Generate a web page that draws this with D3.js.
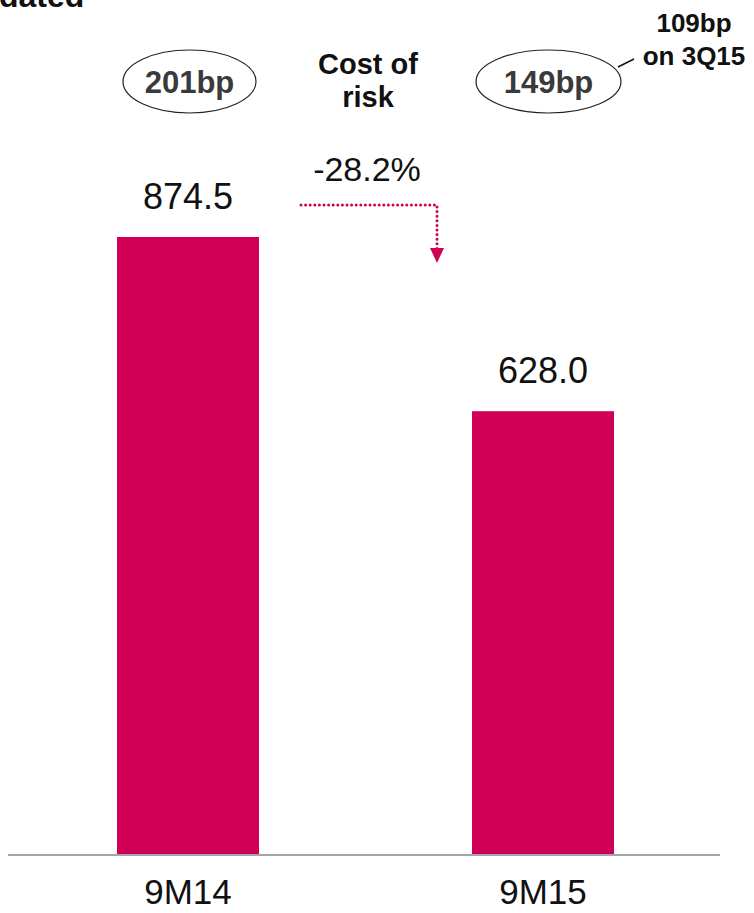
<!DOCTYPE html>
<html>
<head>
<meta charset="utf-8">
<script src="https://cdn.jsdelivr.net/npm/d3@7"></script>
<style>
  html, body { margin: 0; padding: 0; background: #fff; }
  svg { display: block; }
</style>
</head>
<body>
<svg id="chart" width="754" height="913"></svg>
<script>
// Cost of risk, 9M14 vs 9M15
const categories = ["9M14", "9M15"];
const values = [874.5, 628.0];
const valueLabels = ["874.5", "628.0"];
const costOfRisk = ["201bp", "149bp"];
const changeLabel = "-28.2%";
const quarterNote = ["109bp", "on 3Q15"];

const W = 754, H = 913;
const svg = d3.select("#chart");
const barColor = "#D10057";
const font = "'Liberation Sans', Arial, sans-serif";

const x = d3.scaleBand()
  .domain(categories)
  .range([10.5, 720.5])
  .paddingInner(0.6)
  .paddingOuter(0.3);

const y = d3.scaleLinear()
  .domain([0, 1000])
  .range([855, 148.3]);

// clipped heading remnant at top-left
svg.append("text")
  .attr("x", -1).attr("y", 7)
  .attr("font-family", font).attr("font-size", 32).attr("font-weight", "bold")
  .attr("fill", "#111")
  .text("dated");

// bars
svg.append("g").selectAll("rect")
  .data(values)
  .join("rect")
  .attr("x", (d, i) => x(categories[i]))
  .attr("y", d => y(d))
  .attr("width", x.bandwidth())
  .attr("height", d => y(0) - y(d))
  .attr("fill", barColor);

// baseline axis
const axis = svg.append("g")
  .attr("transform", `translate(0,${y(0)})`)
  .call(d3.axisBottom(x).tickSize(0).tickPadding(0));
axis.select(".domain")
  .attr("d", "M8,0H720")
  .attr("stroke", "#a6a6a6")
  .attr("stroke-width", 2);
axis.selectAll(".tick text")
  .attr("dy", 0)
  .attr("y", 49)
  .attr("font-family", font)
  .attr("font-size", 35)
  .attr("fill", "#111");

// value labels
svg.append("g").selectAll("text")
  .data(values)
  .join("text")
  .attr("x", (d, i) => x(categories[i]) + x.bandwidth() / 2)
  .attr("y", d => y(d) - 28)
  .attr("text-anchor", "middle")
  .attr("font-family", font)
  .attr("font-size", 36)
  .attr("fill", "#111")
  .text((d, i) => valueLabels[i]);

// cost of risk ellipses
const ellipses = [
  { cx: 189.5, rx: 66.5 },
  { cx: 548.5, rx: 72.5 }
];
const eg = svg.append("g");
ellipses.forEach((e, i) => {
  eg.append("ellipse")
    .attr("cx", e.cx).attr("cy", 81.5)
    .attr("rx", e.rx).attr("ry", 31.5)
    .attr("fill", "none")
    .attr("stroke", "#222")
    .attr("stroke-width", 1.2);
  eg.append("text")
    .attr("x", e.cx).attr("y", 93)
    .attr("text-anchor", "middle")
    .attr("font-family", font).attr("font-weight", "bold")
    .attr("font-size", 31)
    .attr("fill", "#3a3a3a")
    .text(costOfRisk[i]);
});

// centre caption
const cap = svg.append("text")
  .attr("text-anchor", "middle")
  .attr("font-family", font).attr("font-weight", "bold")
  .attr("font-size", 29)
  .attr("fill", "#111");
cap.append("tspan").attr("x", 368).attr("y", 74).text("Cost of");
cap.append("tspan").attr("x", 368).attr("y", 107).text("risk");

// quarterly note with leader line
svg.append("line")
  .attr("x1", 618).attr("y1", 67)
  .attr("x2", 634).attr("y2", 59)
  .attr("stroke", "#111").attr("stroke-width", 1.5);
const note = svg.append("text")
  .attr("text-anchor", "middle")
  .attr("font-family", font).attr("font-weight", "bold")
  .attr("font-size", 26)
  .attr("fill", "#111");
note.append("tspan").attr("x", 694).attr("y", 32).text(quarterNote[0]);
note.append("tspan").attr("x", 694).attr("y", 65).text(quarterNote[1]);

// change label and dotted arrow
svg.append("text")
  .attr("x", 367).attr("y", 181)
  .attr("text-anchor", "middle")
  .attr("font-family", font)
  .attr("font-size", 34)
  .attr("fill", "#111")
  .text(changeLabel);

svg.append("path")
  .attr("d", "M301,205H437V249")
  .attr("fill", "none")
  .attr("stroke", barColor)
  .attr("stroke-width", 3)
  .attr("stroke-linecap", "round")
  .attr("stroke-dasharray", "0 4.6");
svg.append("path")
  .attr("d", "M430,248L444,248L437,263Z")
  .attr("fill", barColor);
</script>
</body>
</html>
